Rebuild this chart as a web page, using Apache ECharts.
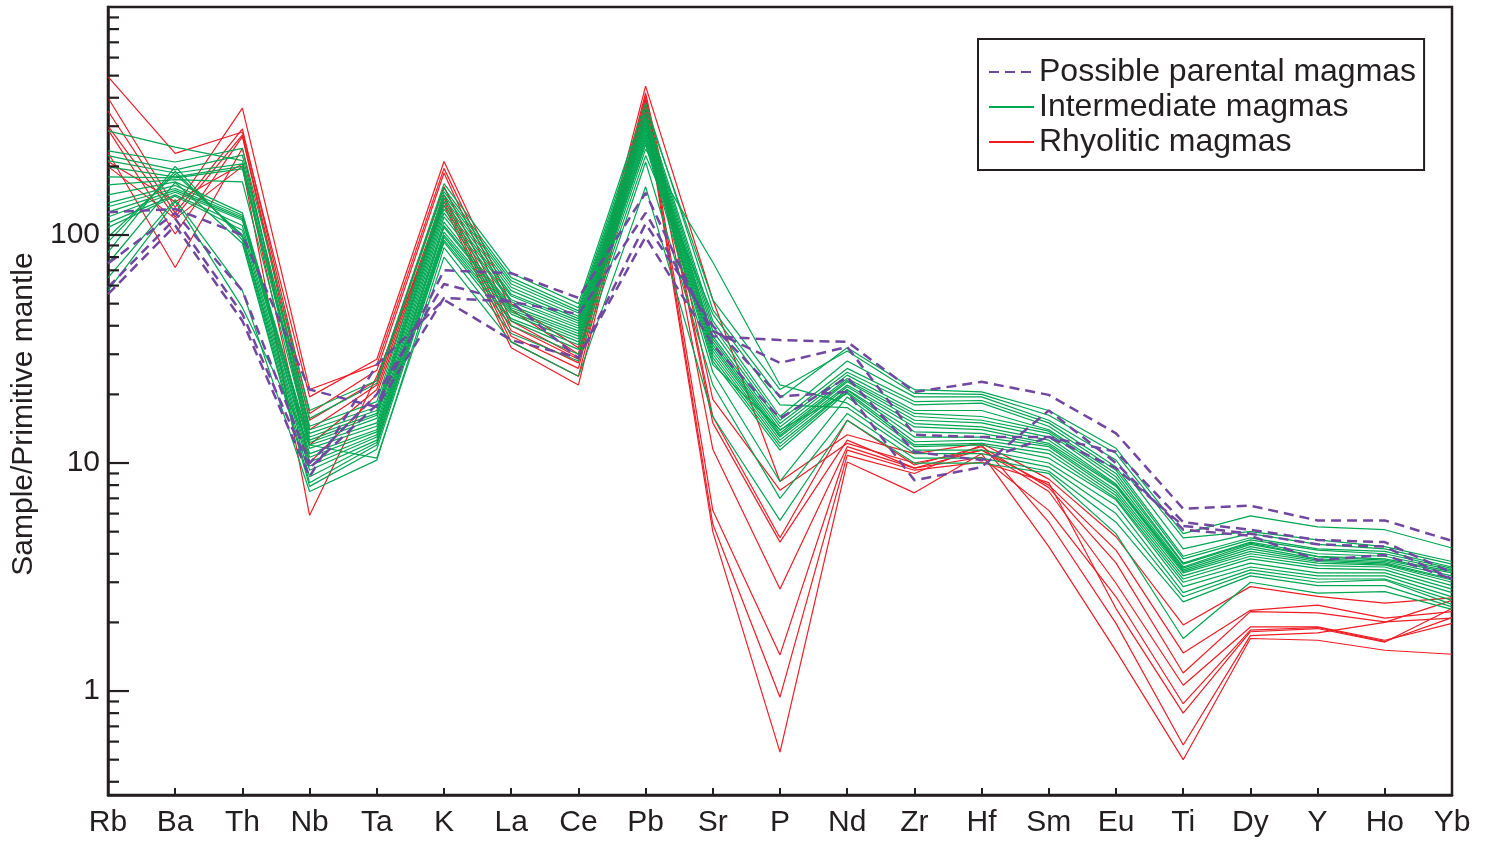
<!DOCTYPE html>
<html>
<head>
<meta charset="utf-8">
<title>Primitive-mantle normalised trace element patterns</title>
<script src="https://cdn.jsdelivr.net/npm/echarts@6/dist/echarts.min.js"></script>
<style>
  html, body { margin: 0; padding: 0; background: #ffffff; }
  #chart { width: 1494px; height: 844px; }
</style>
</head>
<body>
<div id="chart"></div>
<script>
// Element order along the x axis
const elements = ['Rb','Ba','Th','Nb','Ta','K','La','Ce','Pb','Sr','P','Nd','Zr','Hf','Sm','Eu','Ti','Dy','Y','Ho','Yb'];

// Labelled decades on the log axis
const yTickLabels = [1, 10, 100];

// Possible parental magmas (sample / primitive mantle)
const parentalMagmas = [
  [59, 118, 45, 9.5, 18, 70, 68, 53, 153, 36, 34.6, 34, 20.5, 22.7, 19.9, 13.5, 6.3, 6.5, 5.6, 5.6, 4.56],
  [75, 125, 57, 10, 20, 61, 51, 45, 125, 38, 27.5, 32.3, 13.3, 13, 13, 11.2, 5.5, 5.1, 4.6, 4.5, 3.3],
  [126, 130, 100, 21, 17.6, 53, 51, 28.8, 112, 40, 19.6, 20.5, 8.4, 9.6, 17, 10, 5.1, 4.8, 3.75, 3.95, 3.1],
  [55, 110, 42, 8.7, 27, 52, 34.6, 29, 98, 33, 15.7, 23.8, 11.2, 10.3, 13, 9.5, 5.3, 4.9, 4.4, 4.3, 3.1]
];

// Intermediate magmas
const intermediateMagmas = [
  [286, 243, 212, 15.7, 22.4, 160, 65, 48, 362, 52, 21, 31, 20.2, 20, 16.2, 11, 4.7, 5.0, 4.6, 4.3, 3.7],
  [234, 209, 240, 17, 23, 168, 68, 50, 380, 47, 19.3, 32, 21, 20.5, 17, 11.6, 4.9, 5.86, 5.25, 5.1, 4.24],
  [223, 193, 224, 14.5, 18.6, 155, 63, 46.5, 345, 42, 16, 28, 19.5, 19.5, 15.4, 10.3, 4.2, 4.9, 4.4, 4.2, 3.6],
  [212, 187, 205, 14, 17.6, 150, 61, 45.5, 334, 40, 15.4, 26, 18.6, 18.8, 15, 9.6, 3.9, 4.7, 4.2, 4.1, 3.5],
  [199, 180, 200, 13.5, 17, 145, 59, 44, 325, 38, 14.9, 25, 18, 18.3, 14.5, 9.3, 3.8, 4.6, 4.15, 4.0, 3.45],
  [180, 178, 195, 13, 16.5, 140, 57, 43, 318, 36, 14.4, 24.3, 17, 17, 14, 9, 3.64, 4.5, 4.0, 3.9, 3.4],
  [166, 175, 171, 12.6, 16.2, 135, 55, 42, 310, 35, 13.9, 23.5, 16.5, 16, 13.8, 8.7, 3.6, 4.45, 3.9, 3.8, 3.35],
  [150, 171, 125, 12.3, 15.7, 130, 54, 41, 303, 34, 13.5, 23, 16, 15.4, 13.5, 8.4, 3.5, 4.4, 3.88, 3.75, 3.3],
  [138, 165, 122, 12, 15, 125, 52, 40, 295, 33, 13.2, 22.7, 15.4, 15, 13, 8.1, 3.46, 4.3, 3.8, 3.7, 3.2],
  [133, 160, 120, 11.6, 14.5, 120, 51, 39, 290, 32, 13, 22, 14.9, 14.4, 12.6, 8.0, 3.4, 4.2, 3.75, 3.65, 3.1],
  [126, 157, 118, 11, 14, 114, 49, 38, 282, 31, 12.6, 21.6, 14.4, 14, 12.2, 7.9, 3.35, 4.1, 3.7, 3.6, 3.07],
  [120, 154, 116, 10.6, 13.7, 110, 48, 37, 275, 30, 12.2, 21, 13.7, 13.5, 12, 7.6, 3.3, 4.0, 3.64, 3.57, 3.0],
  [113, 150, 110, 10.1, 13.3, 108, 47, 36, 268, 29, 11.8, 20.9, 13, 13, 11.8, 7.4, 3.2, 3.9, 3.55, 3.5, 2.9],
  [108, 148, 105, 9.7, 13, 103, 46, 35, 262, 28, 11.4, 20.5, 12.4, 12.6, 11.4, 7.2, 3.1, 3.8, 3.45, 3.4, 2.8],
  [98, 185, 100, 9.3, 12.6, 100, 45, 34, 255, 27, 14, 20.2, 12, 12.2, 11, 7.0, 3.0, 3.64, 3.3, 3.3, 2.7],
  [93, 190, 98, 8.7, 12.3, 98, 43, 33, 249, 25, 8.3, 19.5, 11.8, 12, 10.5, 6.9, 2.87, 3.5, 3.2, 3.2, 2.59],
  [84, 200, 95, 8.2, 12, 95, 42, 31.5, 238, 76, 22, 18.3, 11.4, 11.4, 10, 6.5, 2.7, 3.4, 3.1, 3.1, 2.5],
  [75, 170, 92, 7.9, 11.5, 93, 40, 30, 223, 45, 18, 17.5, 11, 11, 9.6, 6.0, 2.59, 3.3, 3.0, 3.07, 2.4],
  [65, 143, 57, 7.5, 10.3, 88, 37, 28, 209, 22, 7.0, 16.5, 10.5, 10.5, 9.2, 5.5, 2.46, 3.2, 2.9, 2.9, 2.34],
  [57, 140, 48, 12, 10.5, 80, 34, 24, 163, 16, 5.6, 15.4, 10, 10, 9, 4.9, 1.7, 3.0, 2.69, 2.73, 2.28]
];

// Rhyolitic magmas
const rhyoliticMagmas = [
  [495, 228, 283, 19.5, 28.5, 210, 50, 32, 450, 52, 8.3, 13.3, 11, 12.2, 8.5, 4.75, 1.95, 2.87, 2.6, 2.43, 2.56],
  [400, 132, 360, 21, 27, 196, 47, 30, 420, 19, 7.6, 12.2, 10, 11.4, 8.0, 4.15, 1.47, 2.26, 2.38, 2.09, 2.23],
  [350, 125, 292, 16.5, 25.5, 187, 42, 29, 405, 16, 4.7, 15.4, 9.8, 11.8, 7.8, 3.65, 1.2, 2.23, 2.2, 2.01, 2.09],
  [300, 120, 275, 15.4, 23, 163, 40, 28.5, 395, 15, 4.5, 12.6, 9.5, 11.4, 7.5, 2.97, 1.06, 1.91, 1.91, 1.67, 1.98],
  [290, 101, 270, 14, 22, 150, 38, 27.5, 385, 11.5, 2.8, 11.8, 9.5, 10.6, 6.2, 2.59, 0.88, 1.85, 1.9, 1.65, 2.1],
  [230, 72, 240, 12, 21, 145, 36, 26, 370, 6.2, 1.44, 11.4, 9.3, 10.1, 8.2, 2.3, 0.80, 1.82, 1.88, 1.64, 2.3],
  [210, 140, 205, 10, 20, 140, 34, 24, 355, 5.4, 0.94, 10.8, 9.0, 12, 5.5, 1.98, 0.58, 1.75, 1.8, 2.0, 2.5],
  [200, 118, 200, 5.9, 24, 135, 32, 22, 340, 5.0, 0.54, 10.1, 7.4, 11, 4.3, 1.5, 0.50, 1.70, 1.67, 1.51, 1.45]
];

const INK = '#231f20';
const FONT = '"Liberation Sans", Arial, sans-serif';
const PURPLE = '#7147a0';
const GREEN = '#00a651';
const RED = '#ee1c25';

const NAME_PARENTAL = 'Possible parental magmas';
const NAME_INTER = 'Intermediate magmas';
const NAME_RHYO = 'Rhyolitic magmas';

function lineSeries(rows, name, color, width, dash) {
  return rows.map(function (row) {
    return {
      type: 'line',
      name: name,
      data: row,
      symbol: 'none',
      silent: true,
      animation: false,
      color: color,
      lineStyle: { color: color, width: width, type: dash || 'solid' }
    };
  });
}

// Minor and major ticks of the logarithmic axis (1–9 in every decade)
const logTicks = [];
[0.1, 1, 10, 100].forEach(function (dec) {
  for (let m = 1; m <= 9; m++) {
    const v = +(dec * m).toPrecision(3);
    if (v >= 0.35 && v < 1000) logTicks.push([0, v, yTickLabels.indexOf(v) >= 0 ? 1 : 0]);
  }
});

const tickSeries = {
  type: 'custom',
  name: 'logTicks',
  silent: true,
  animation: false,
  clip: false,
  z: 10,
  encode: { x: 0, y: 1 },
  data: logTicks,
  renderItem: function (params, api) {
    const p = api.coord([0, api.value(1)]);
    const len = api.value(2) ? 21 : 11;
    return {
      type: 'line',
      shape: { x1: p[0], y1: p[1], x2: p[0] + len, y2: p[1] },
      style: { stroke: INK, lineWidth: 2.2 }
    };
  }
};

const chart = echarts.init(document.getElementById('chart'), null, { renderer: 'canvas' });

chart.setOption({
  backgroundColor: '#ffffff',
  textStyle: { fontFamily: FONT, color: INK },
  grid: {
    left: 108, right: 42, top: 7, bottom: 49,
    show: true, borderColor: INK, borderWidth: 2.5, backgroundColor: 'transparent'
  },
  legend: {
    data: [NAME_PARENTAL, NAME_INTER, NAME_RHYO],
    orient: 'vertical',
    left: 978, top: 39,
    padding: [17, 8, 12, 10],
    itemGap: 3,
    itemWidth: 45,
    itemHeight: 14,
    borderColor: INK,
    borderWidth: 2,
    backgroundColor: '#ffffff',
    selectedMode: false,
    itemStyle: { opacity: 0 },
    textStyle: { fontFamily: FONT, fontSize: 32, color: INK, lineHeight: 30 }
  },
  xAxis: {
    type: 'category',
    data: elements,
    boundaryGap: false,
    axisLine: { lineStyle: { color: INK, width: 2.5 } },
    axisTick: { show: true, inside: true, length: 7, lineStyle: { color: INK, width: 2 } },
    axisLabel: { fontFamily: FONT, fontSize: 30, color: INK, margin: 13 },
    splitLine: { show: false }
  },
  yAxis: {
    type: 'log',
    logBase: 10,
    min: 0.35,
    max: 1000,
    axisLine: { show: true, lineStyle: { color: INK, width: 2.5 } },
    axisTick: { show: false },
    splitLine: { show: false },
    minorTick: { show: false },
    axisLabel: {
      fontFamily: FONT, fontSize: 30, color: INK, margin: 8,
      showMinLabel: true, showMaxLabel: true,
      formatter: function (v) {
        for (let i = 0; i < yTickLabels.length; i++) {
          if (Math.abs(v - yTickLabels[i]) < 1e-6 * yTickLabels[i]) return String(yTickLabels[i]);
        }
        return '';
      }
    }
  },
  graphic: [{
    type: 'text',
    x: 24, y: 414,
    rotation: Math.PI / 2,
    style: {
      text: 'Sample/Primitive mantle',
      fontFamily: FONT, fontSize: 30, fill: INK,
      align: 'center', verticalAlign: 'middle'
    }
  }],
  series: []
    .concat(lineSeries(rhyoliticMagmas, NAME_RHYO, RED, 1.2))
    .concat(lineSeries(intermediateMagmas, NAME_INTER, GREEN, 1.2))
    .concat(lineSeries(parentalMagmas, NAME_PARENTAL, PURPLE, 2.5, [10, 6]))
    .concat([tickSeries])
});
</script>
</body>
</html>
